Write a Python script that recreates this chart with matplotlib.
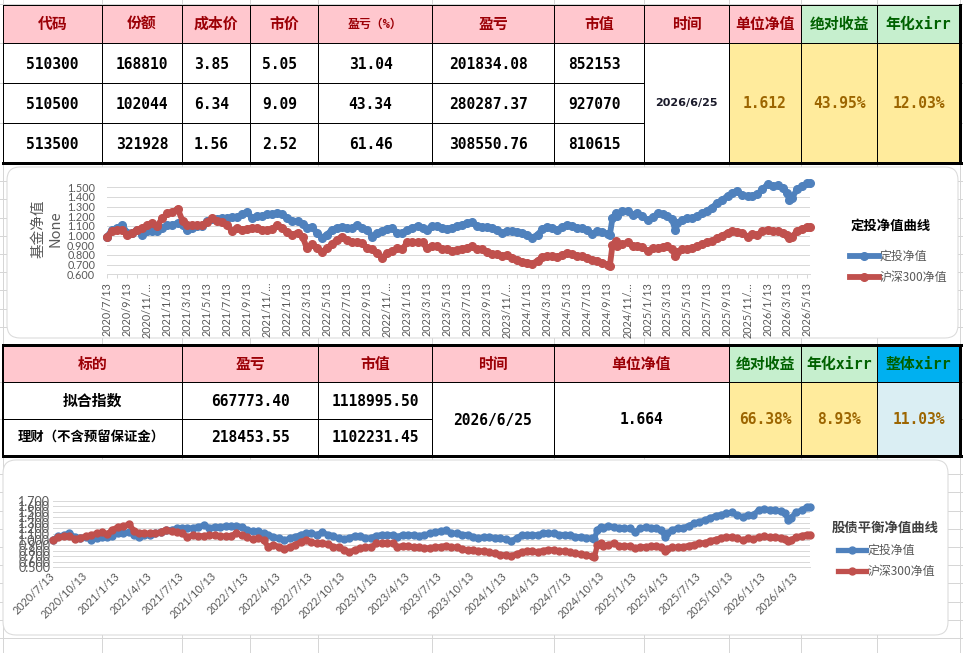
import matplotlib
matplotlib.use("Agg")
import matplotlib.pyplot as plt
from matplotlib.patches import Rectangle, FancyBboxPatch
from matplotlib.ticker import FuncFormatter
import pandas as pd
import numpy as np

plt.rcParams['font.family'] = ['Noto Sans CJK SC', 'DejaVu Sans']

# ------------------------------------------------------------------ data
dates = [
    "2020-07-13", "2020-07-28", "2020-08-13", "2020-08-28", "2020-09-13", "2020-09-28",
    "2020-10-13", "2020-10-28", "2020-11-13", "2020-11-28", "2020-12-13", "2020-12-28",
    "2021-01-13", "2021-01-28", "2021-02-13", "2021-02-28", "2021-03-13", "2021-03-28",
    "2021-04-13", "2021-04-28", "2021-05-13", "2021-05-28", "2021-06-13", "2021-06-28",
    "2021-07-13", "2021-07-28", "2021-08-13", "2021-08-28", "2021-09-13", "2021-09-28",
    "2021-10-13", "2021-10-28", "2021-11-13", "2021-11-28", "2021-12-13", "2021-12-28",
    "2022-01-13", "2022-01-28", "2022-02-13", "2022-02-28", "2022-03-13", "2022-03-28",
    "2022-04-13", "2022-04-28", "2022-05-13", "2022-05-28", "2022-06-13", "2022-06-28",
    "2022-07-13", "2022-07-28", "2022-08-13", "2022-08-28", "2022-09-13", "2022-09-28",
    "2022-10-13", "2022-10-28", "2022-11-13", "2022-11-28", "2022-12-13", "2022-12-28",
    "2023-01-13", "2023-01-28", "2023-02-13", "2023-02-28", "2023-03-13", "2023-03-28",
    "2023-04-13", "2023-04-28", "2023-05-13", "2023-05-28", "2023-06-13", "2023-06-28",
    "2023-07-13", "2023-07-28", "2023-08-13", "2023-08-28", "2023-09-13", "2023-09-28",
    "2023-10-13", "2023-10-28", "2023-11-13", "2023-11-28", "2023-12-13", "2023-12-28",
    "2024-01-13", "2024-01-28", "2024-02-13", "2024-02-28", "2024-03-13", "2024-03-28",
    "2024-04-13", "2024-04-28", "2024-05-13", "2024-05-28", "2024-06-13", "2024-06-28",
    "2024-07-13", "2024-07-28", "2024-08-13", "2024-08-28", "2024-09-13", "2024-09-20",
    "2024-09-28", "2024-10-08", "2024-10-13", "2024-10-28", "2024-11-13", "2024-11-28",
    "2024-12-13", "2024-12-28",
    "2025-01-13", "2025-01-28", "2025-02-13", "2025-02-28", "2025-03-13", "2025-03-28",
    "2025-04-07", "2025-04-13", "2025-04-28", "2025-05-13", "2025-05-28", "2025-06-13",
    "2025-06-28", "2025-07-13", "2025-07-28", "2025-08-13", "2025-08-28", "2025-09-13",
    "2025-09-28", "2025-10-13", "2025-10-28", "2025-11-13", "2025-11-28", "2025-12-13",
    "2025-12-28",
    "2026-01-13", "2026-01-28", "2026-02-13", "2026-02-28", "2026-03-13", "2026-03-20",
    "2026-03-28", "2026-04-13", "2026-04-28", "2026-05-13", "2026-05-22",
]

# chart 1 : 定投净值
nav_dingtou_1 = [
    0.99, 1.06, 1.08, 1.11, 1.03, 1.03, 1.06, 1.01, 1.045, 1.05, 1.05, 1.08,
    1.11, 1.11, 1.13, 1.11, 1.06, 1.08, 1.10, 1.10, 1.15, 1.17, 1.17, 1.18,
    1.18, 1.19, 1.19, 1.22, 1.24, 1.18, 1.20, 1.20, 1.22, 1.22, 1.23, 1.22,
    1.18, 1.15, 1.15, 1.12, 1.08, 1.09, 1.03, 0.98, 1.01, 1.06, 1.08, 1.09,
    1.08, 1.08, 1.11, 1.08, 1.06, 0.99, 1.03, 1.045, 1.07, 1.08, 1.03, 1.03,
    1.06, 1.08, 1.10, 1.08, 1.06, 1.10, 1.10, 1.08, 1.07, 1.08, 1.10, 1.11,
    1.13, 1.14, 1.10, 1.09, 1.09, 1.08, 1.06, 1.03, 1.045, 1.045, 1.04, 1.03,
    1.01, 0.98, 1.01, 1.07, 1.09, 1.08, 1.06, 1.09, 1.11, 1.10, 1.08, 1.08,
    1.06, 1.02, 1.045, 1.04, 1.02, 1.01, 1.18, 1.23, 1.20, 1.25, 1.25, 1.21,
    1.23, 1.20,
    1.16, 1.19, 1.23, 1.22, 1.20, 1.17, 1.06, 1.13, 1.16, 1.18, 1.18, 1.20,
    1.23, 1.26, 1.29, 1.34, 1.37, 1.41, 1.44, 1.46, 1.42, 1.41, 1.41, 1.43,
    1.48,
    1.53, 1.51, 1.52, 1.49, 1.44, 1.37, 1.39, 1.48, 1.51, 1.54, 1.54,
]

# both charts : 沪深300净值
nav_hs300 = [
    0.99, 1.045, 1.06, 1.06, 1.01, 1.03, 1.06, 1.08, 1.11, 1.13, 1.10, 1.18,
    1.23, 1.24, 1.28, 1.15, 1.11, 1.11, 1.11, 1.11, 1.14, 1.18, 1.15, 1.14,
    1.11, 1.05, 1.08, 1.06, 1.07, 1.08, 1.08, 1.06, 1.06, 1.07, 1.11, 1.08,
    1.04, 1.01, 1.03, 0.99, 0.87, 0.91, 0.87, 0.83, 0.87, 0.91, 0.96, 0.99,
    0.96, 0.93, 0.93, 0.92, 0.87, 0.86, 0.82, 0.77, 0.82, 0.84, 0.87, 0.86,
    0.93, 0.93, 0.93, 0.93, 0.87, 0.89, 0.89, 0.86, 0.86, 0.84, 0.85, 0.865,
    0.87, 0.89, 0.86, 0.86, 0.83, 0.81, 0.81, 0.79, 0.80, 0.77, 0.75, 0.73,
    0.72, 0.71, 0.74, 0.78, 0.79, 0.79, 0.78, 0.80, 0.82, 0.81, 0.79, 0.79,
    0.77, 0.75, 0.74, 0.72, 0.70, 0.69, 0.90, 0.94, 0.89, 0.91, 0.93, 0.89,
    0.89, 0.88,
    0.84, 0.87, 0.87, 0.88, 0.89, 0.86, 0.79, 0.83, 0.86, 0.86, 0.87, 0.89,
    0.91, 0.93, 0.94, 0.98, 1.00, 1.03, 1.045, 1.04, 1.03, 0.99, 1.02, 1.01,
    1.045,
    1.06, 1.045, 1.045, 1.03, 1.01, 0.98, 0.99, 1.045, 1.07, 1.09, 1.09,
]

# chart 2 : 定投净值 (股债平衡)
nav_dingtou_2 = [
    1.00, 1.06, 1.08, 1.12, 1.04, 1.03, 1.05, 0.99, 1.03, 1.05, 1.05, 1.07,
    1.11, 1.11, 1.14, 1.09, 1.05, 1.08, 1.09, 1.11, 1.14, 1.17, 1.18, 1.20,
    1.21, 1.20, 1.21, 1.23, 1.26, 1.21, 1.23, 1.23, 1.24, 1.25, 1.25, 1.23,
    1.17, 1.15, 1.15, 1.11, 1.08, 1.05, 1.02, 0.99, 1.02, 1.05, 1.09, 1.11,
    1.11, 1.09, 1.13, 1.09, 1.07, 1.02, 1.01, 1.03, 1.07, 1.07, 1.02, 1.03,
    1.07, 1.09, 1.09, 1.08, 1.05, 1.09, 1.09, 1.08, 1.07, 1.08, 1.11, 1.14,
    1.15, 1.17, 1.11, 1.11, 1.09, 1.09, 1.05, 1.02, 1.05, 1.05, 1.03, 1.02,
    1.01, 0.97, 1.03, 1.08, 1.09, 1.09, 1.08, 1.11, 1.11, 1.11, 1.09, 1.09,
    1.08, 1.05, 1.05, 1.03, 1.02, 1.01, 1.18, 1.22, 1.20, 1.25, 1.23, 1.21,
    1.20, 1.20,
    1.14, 1.20, 1.23, 1.21, 1.20, 1.17, 1.05, 1.11, 1.17, 1.21, 1.21, 1.25,
    1.29, 1.32, 1.35, 1.39, 1.43, 1.45, 1.47, 1.49, 1.44, 1.41, 1.44, 1.45,
    1.53,
    1.55, 1.53, 1.53, 1.51, 1.47, 1.36, 1.39, 1.49, 1.53, 1.59, 1.58,
]

series_names = ["定投净值", "沪深300净值"]
chart1_title = "定投净值曲线"
chart2_title = "股债平衡净值曲线"
chart1_ylabel = "基金净值\nNone"

# table 1
t1_header = ["代码", "份额", "成本价", "市价", "盈亏（%）", "盈亏", "市值", "时间",
             "单位净值", "绝对收益", "年化xirr"]
t1_code = ["510300", "510500", "513500"]
t1_share = ["168810", "102044", "321928"]
t1_cost = ["3.85", "6.34", "1.56"]
t1_price = ["5.05", "9.09", "2.52"]
t1_pnl_pct = ["31.04", "43.34", "61.46"]
t1_pnl = ["201834.08", "280287.37", "308550.76"]
t1_mv = ["852153", "927070", "810615"]
t1_summary = ["2026/6/25", "1.612", "43.95%", "12.03%"]

# table 2
t2_header = ["标的", "盈亏", "市值", "时间", "单位净值", "绝对收益", "年化xirr", "整体xirr"]
t2_name = ["拟合指数", "理财（不含预留保证金）"]
t2_pnl = ["667773.40", "218453.55"]
t2_mv = ["1118995.50", "1102231.45"]
t2_summary = ["2026/6/25", "1.664", "66.38%", "8.93%", "11.03%"]

# ------------------------------------------------------------------ layout
W, H = 963, 653
PX = 0.72
fig = plt.figure(figsize=(W / 100, H / 100), dpi=100)
bg = fig.add_axes([0, 0, 1, 1])
bg.set_xlim(0, W)
bg.set_ylim(H, 0)
bg.axis('off')

PINK, PINK_T = '#FFC7CE', '#9C0006'
GREEN, GREEN_T = '#C6EFCE', '#006100'
YEL, YEL_T = '#FFEB9C', '#9C6500'
CYAN, LBLUE = '#00B0F0', '#DAEEF3'
GRIDC = '#d6d6d6'
MONO = ['DejaVu Sans Mono', 'Noto Sans CJK SC']
LAT = ['Lato', 'DejaVu Sans']

# spreadsheet grid
cols = [3, 102, 182, 250, 318, 432, 554, 644, 729, 801, 877, 960]
for xc in cols:
    bg.plot([xc, xc], [0, H], color=GRIDC, lw=PX, zorder=1)
rows = [4, 43, 83, 123, 382, 419] + [163 + 18.2 * k for k in range(1, 10)] + \
       [456 + 18.2 * k for k in range(1, 11)]
for yr in rows:
    bg.plot([0, W], [yr, yr], color=GRIDC, lw=PX, zorder=1)

# chart boxes
for (x0, y0, x1, y1) in [(7, 167, 958, 338), (3, 460, 948, 635)]:
    bg.add_patch(FancyBboxPatch((x0, y0), x1 - x0, y1 - y0,
                                boxstyle="round,pad=0,rounding_size=13",
                                fc='white', ec='#d9d9d9', lw=PX, zorder=2))


def fill(x0, x1, y0, y1, c):
    bg.add_patch(Rectangle((x0, y0), x1 - x0, y1 - y0, fc=c, ec='none', zorder=3))


def hline(x0, x1, y, lw=PX):
    bg.plot([x0, x1], [y, y], color='black', lw=lw, zorder=4, solid_capstyle='projecting')


def vline(x, y0, y1, lw=PX):
    bg.plot([x, x], [y0, y1], color='black', lw=lw, zorder=4, solid_capstyle='projecting')


def txt(x, y, s, size=10.7, color='black', family=MONO, weight='bold'):
    bg.text(x, y, s, ha='center', va='center', fontsize=size, color=color,
            family=family, weight=weight, zorder=5)


# ---------------- table 1
T1T, T1H, T1B = 5, 43, 163
t1_rows = [43, 83, 123, 163]
for i in range(11):
    c = GREEN if i >= 9 else PINK
    fill(cols[i], cols[i + 1], T1T, T1H, c)
fill(3, 729, T1H, T1B, 'white')
fill(729, 960, T1H, T1B, YEL)
for xc in cols[:-1]:
    vline(xc, T1T, T1B)
hline(3, 960, T1T)
hline(3, 960, T1H)
for yr in t1_rows[1:3]:
    hline(3, 644, yr)
hline(3, 962, T1B, lw=3 * PX)
vline(960, T1T, T1B, lw=3 * PX)

for i, h in enumerate(t1_header):
    xc = (cols[i] + cols[i + 1]) / 2
    col = GREEN_T if i >= 9 else PINK_T
    txt(xc, 24, h, size=8.6 if i == 4 else 10.7, color=col)

t1_cols = [t1_code, t1_share, t1_cost, t1_price, t1_pnl_pct, t1_pnl, t1_mv]
for i, vals in enumerate(t1_cols):
    xc = (cols[i] + cols[i + 1]) / 2 - (4.5 if i >= 2 else 0)
    for r, v in enumerate(vals):
        txt(xc, (t1_rows[r] + t1_rows[r + 1]) / 2 + 1.5, v, size=10.5)
txt((644 + 729) / 2, 103, t1_summary[0], size=8, family=['DejaVu Sans'], color='#1a1a2a')
for i, v in enumerate(t1_summary[1:]):
    xc = (cols[8 + i] + cols[9 + i]) / 2
    txt(xc, 104, v, size=10.5, color=YEL_T)

# ---------------- table 2
cols2 = [3, 182, 318, 432, 554, 729, 801, 877, 960]
T2T, T2H, T2M, T2B = 345, 382, 419, 456
for i in range(8):
    c = PINK if i < 5 else (GREEN if i < 7 else CYAN)
    fill(cols2[i], cols2[i + 1], T2T, T2H, c)
fill(3, 729, T2H, T2B, 'white')
fill(729, 877, T2H, T2B, YEL)
fill(877, 960, T2H, T2B, LBLUE)
for xc in cols2[1:-1]:
    vline(xc, T2T, T2B)
vline(3, T2T, T2B, lw=2 * PX)
hline(3, 960, T2H)
hline(3, 432, T2M)
hline(3, 962, T2T, lw=3 * PX)
hline(3, 962, T2B, lw=3 * PX)
vline(960, T2T, T2B, lw=3 * PX)

for i, h in enumerate(t2_header):
    xc = (cols2[i] + cols2[i + 1]) / 2
    col = PINK_T if i < 5 else GREEN_T
    txt(xc, 364, h, size=10.7, color=col)
txt(92.5, 401, t2_name[0], size=10.7)
txt(91, 438, t2_name[1], size=9.6)
for r in range(2):
    y = 401 if r == 0 else 438
    txt(250, y, t2_pnl[r], size=10.5)
    txt(375, y, t2_mv[r], size=10.5)
txt(493, 420, t2_summary[0], size=10.5)
txt(641.5, 420, t2_summary[1], size=10.5)
for i, v in enumerate(t2_summary[2:]):
    xc = (cols2[5 + i] + cols2[6 + i]) / 2
    txt(xc, 420, v, size=10.5, color=YEL_T)

# ------------------------------------------------------------------ charts
BLUE, RED = '#4F81BD', '#C0504D'
TICKC, AXC = '#595959', '#d9d9d9'
x = pd.to_datetime(dates)


def px_axes(l, t, r, b):
    a = fig.add_axes([l / W, 1 - b / H, (r - l) / W, (b - t) / H])
    a.patch.set_alpha(0)
    return a


def style_common(ax, ylo, yhi):
    ax.set_xlim(x[0], x[-1])
    ax.set_ylim(ylo, yhi)
    ax.set_yticks(np.round(np.arange(ylo, yhi + 1e-6, 0.1), 1))
    ax.yaxis.set_major_formatter(FuncFormatter(lambda v, p: f"{v:.3f}"))
    ax.grid(axis='y', color=AXC, lw=PX)
    ax.set_axisbelow(True)
    for s in ['top', 'right', 'left']:
        ax.spines[s].set_visible(False)
    ax.spines['bottom'].set_color(AXC)
    ax.spines['bottom'].set_linewidth(PX)


def draw_lines(ax, blue_vals, lw, ms):
    lb, = ax.plot(x, blue_vals, color=BLUE, lw=lw, marker='o', ms=ms, mec=BLUE,
                  clip_on=False, zorder=3, label=series_names[0])
    lr, = ax.plot(x, nav_hs300, color=RED, lw=lw, marker='o', ms=ms, mec=RED,
                  clip_on=False, zorder=4, label=series_names[1])
    return lb, lr


# chart 1
ax1 = px_axes(107, 187.3, 810, 274.3)
h1 = draw_lines(ax1, nav_dingtou_1, 4.2, 5.5)
style_common(ax1, 0.6, 1.5)
ticks1 = pd.date_range('2020-07-13', '2026-05-13', freq=pd.DateOffset(months=2))
minor1 = pd.date_range('2020-07-13', '2026-05-13', freq=pd.DateOffset(months=1))


def lab1(d):
    s = f"{d.year}/{d.month}/{d.day}"
    return s if len(s) <= 9 else s[:8] + "…"


ax1.set_xticks(ticks1)
ax1.set_xticklabels([lab1(d) for d in ticks1])
ax1.set_xticks(minor1, minor=True)
ax1.tick_params(axis='x', which='both', length=3, width=PX, color=AXC, pad=2.5,
                labelsize=7.8, labelcolor=TICKC, labelrotation=90)
ax1.tick_params(axis='y', length=0, pad=8.5, labelsize=7.8, labelcolor=TICKC)
for t in ax1.get_xticklabels() + ax1.get_yticklabels():
    t.set_family(LAT)
ax1.set_ylabel(chart1_ylabel, fontsize=10.5, color=TICKC, linespacing=1.3)
ax1.yaxis.set_label_coords((63 - 107) / 703, 0.52)

ax1.legend(handles=list(h1), loc='center left', bbox_to_anchor=(850 / W, 1 - 267 / H),
           bbox_transform=fig.transFigure, frameon=False, borderpad=0, borderaxespad=0,
           handlelength=2.4, handletextpad=0.1, labelspacing=0.7, numpoints=1,
           prop={'family': ['Noto Sans CJK SC', 'DejaVu Sans'], 'size': 8.6},
           labelcolor=TICKC)
bg.text(851, 226, chart1_title, ha='left', va='center', fontsize=9.6, weight='bold',
        color='black', zorder=5)

# chart 2
ax2 = px_axes(53, 500.7, 810, 567.3)
h2 = draw_lines(ax2, nav_dingtou_2, 3.8, 5)
style_common(ax2, 0.5, 1.7)
ticks2 = pd.date_range('2020-07-13', '2026-04-13', freq=pd.DateOffset(months=3))
ax2.set_xticks(ticks2)
ax2.set_xticklabels([f"{d.year}/{d.month}/{d.day}" for d in ticks2])
ax2.tick_params(axis='x', length=0, pad=5, labelsize=7.8, labelcolor=TICKC)
for t in ax2.get_xticklabels():
    t.set_rotation(45)
    t.set_ha('right')
    t.set_va('center')
    t.set_rotation_mode('anchor')
ax2.tick_params(axis='y', length=0, pad=2, labelsize=9, labelcolor=TICKC)
for t in ax2.get_xticklabels() + ax2.get_yticklabels():
    t.set_family(LAT)

ax2.legend(handles=list(h2), loc='center left', bbox_to_anchor=(838 / W, 1 - 561 / H),
           bbox_transform=fig.transFigure, frameon=False, borderpad=0, borderaxespad=0,
           handlelength=2.35, handletextpad=0.1, labelspacing=0.7, numpoints=1,
           prop={'family': ['Noto Sans CJK SC', 'DejaVu Sans'], 'size': 8.6},
           labelcolor=TICKC)
bg.text(832, 528, chart2_title, ha='left', va='center', fontsize=9.6, weight='bold',
        color='#404040', zorder=5)

fig.savefig('out.png', dpi=100)
